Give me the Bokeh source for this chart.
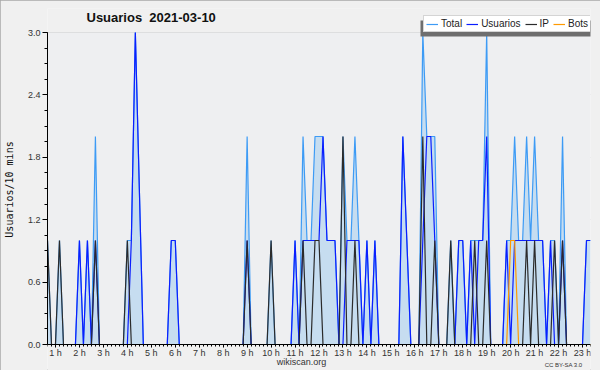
from bokeh.plotting import figure
from bokeh.models import (Range1d, FixedTicker, Legend, LegendItem, Label,
                          BoxAnnotation, PrintfTickFormatter, ColumnDataSource)
from bokeh.embed import file_html
from bokeh.resources import INLINE

# ---- data (10-minute slots) ----
slots = list(range(137))
hour_labels = [f"{h} h" for h in range(1, 24)]
hour_slots = [6 * h - 4 for h in range(1, 24)]
y_ticks = [0.0, 0.6, 1.2, 1.8, 2.4, 3.0]

total = [1, 0, 0, 1, 0, 0, 0, 0, 1, 0,
         1, 0, 2, 0, 0, 0, 0, 0, 0, 0,
         1, 1, 3, 1.5, 0, 0, 0, 0, 0, 0,
         0, 1, 1, 0, 0, 0, 0, 0, 0, 0,
         0, 0, 0, 0, 0, 0, 0, 0, 0, 0,
         2, 0, 0, 0, 0, 0, 1, 0, 0, 0,
         0, 0, 1, 0, 2, 1, 1, 2, 2, 2,
         1, 1, 1, 0, 2, 1, 1, 2, 1, 0,
         1, 0, 1, 0, 0, 0, 0, 0, 0, 2,
         1, 0, 0, 0, 3, 2, 2, 2, 0, 0,
         0, 1, 0, 1, 1, 0, 1, 1, 1, 1,
         3, 0, 0, 0, 0, 1, 1, 2, 1, 1,
         2, 1, 2, 1, 1, 0, 1, 1, 0, 2,
         0, 0, 0, 0, 0, 1, 1]
usuarios = [0, 0, 0, 0, 0, 0, 0, 0, 1, 0,
            1, 0, 1, 0, 0, 0, 0, 0, 0, 0,
            0, 1, 3, 1.5, 0, 0, 0, 0, 0, 0,
            0, 1, 1, 0, 0, 0, 0, 0, 0, 0,
            0, 0, 0, 0, 0, 0, 0, 0, 0, 0,
            1, 0, 0, 0, 0, 0, 0, 0, 0, 0,
            0, 0, 1, 0, 1, 1, 1, 1, 1, 2,
            1, 1, 1, 0, 0, 1, 1, 1, 1, 0,
            1, 0, 1, 0, 0, 0, 0, 0, 0, 2,
            1, 0, 0, 0, 1, 2, 2, 1, 0, 0,
            0, 0, 0, 1, 1, 0, 1, 0, 1, 1,
            2, 0, 0, 0, 0, 1, 0, 1, 1, 1,
            1, 1, 1, 1, 1, 0, 1, 0, 0, 1,
            0, 0, 0, 0, 0, 1, 1]
ip = [1, 0, 0, 1, 0, 0, 0, 0, 0, 0,
      0, 0, 1, 0, 0, 0, 0, 0, 0, 0,
      1, 0, 0, 0, 0, 0, 0, 0, 0, 0,
      0, 0, 0, 0, 0, 0, 0, 0, 0, 0,
      0, 0, 0, 0, 0, 0, 0, 0, 0, 0,
      1, 0, 0, 0, 0, 0, 1, 0, 0, 0,
      0, 0, 0, 0, 1, 0, 0, 1, 1, 0,
      0, 0, 0, 0, 2, 0, 0, 1, 0, 0,
      0, 0, 0, 0, 0, 0, 0, 0, 0, 0,
      0, 0, 0, 0, 2, 0, 0, 1, 0, 0,
      0, 1, 0, 0, 0, 0, 0, 1, 0, 0,
      1, 0, 0, 0, 0, 0, 0, 0, 0, 0,
      1, 0, 1, 0, 0, 0, 0, 1, 0, 1,
      0, 0, 0, 0, 0, 0, 0]
bots = [0] * 116 + [1, 1] + [0] * 19

src = ColumnDataSource(dict(x=slots, total=total, usuarios=usuarios, ip=ip, bots=bots))

FONT = "Liberation Sans"
PX_PER_UNIT = 104.0          # 3.0 units span 312 px
TOP_PAD = 24                 # px of frame above the 3.0 line
BOTTOM_PAD = 26              # px of frame below the 0 line
H = 370
FRAME_TOP = 8

p = figure(width=600, height=H, output_backend="svg", toolbar_location=None,
           x_range=Range1d(0, 136),
           y_range=Range1d(-BOTTOM_PAD / PX_PER_UNIT, y_ticks[-1] + TOP_PAD / PX_PER_UNIT),
           min_border_left=46, min_border_right=10, min_border_top=FRAME_TOP,
           min_border_bottom=0)
p.background_fill_color = "#f0f0f0"
p.border_fill_color = "#f0f0f0"
p.outline_line_color = None
p.styles = {"outline": "1px solid #a8a8a8", "outline-offset": "-1px"}

# plot-area background (between 0 and 3.0)
p.add_layout(BoxAnnotation(bottom=0, top=y_ticks[-1], fill_color="#eeeff1",
                           fill_alpha=1.0, line_color=None, level="underlay"))

# area + lines
p.varea(x="x", y1=0, y2="total", source=src, fill_color="#c6ddf0", fill_alpha=1.0)
r_total = p.line("x", "total", source=src, line_color="#3d9bf5", line_width=1.2)
r_us = p.line("x", "usuarios", source=src, line_color="#0a1eff", line_width=1.2)
r_ip = p.line("x", "ip", source=src, line_color="#2b2b2b", line_width=1.2)
r_bots = p.line("x", "bots", source=src, line_color="#ff9a00", line_width=1.2)

# axes
p.yaxis.ticker = FixedTicker(ticks=y_ticks,
                             minor_ticks=[i * 0.15 for i in range(21)])
p.yaxis.bounds = (y_ticks[0], y_ticks[-1])
p.yaxis.formatter = PrintfTickFormatter(format="%.1f")
p.yaxis.major_tick_out = 5
p.yaxis.major_tick_in = 0
p.yaxis.minor_tick_out = 3
p.yaxis.minor_tick_in = 0
p.yaxis.major_label_text_font = FONT
p.yaxis.major_label_text_font_size = "9px"
p.yaxis.major_label_text_color = "#333333"
p.yaxis.major_label_standoff = 2
p.yaxis.axis_label = "Usuarios/10 mins"
p.yaxis.axis_label_text_font = "DejaVu Sans Mono"
p.yaxis.axis_label_text_font_size = "10px"
p.yaxis.axis_label_text_font_style = "normal"
p.yaxis.axis_label_text_color = "#111111"
p.yaxis.axis_label_standoff = 10

p.xaxis.fixed_location = 0
p.xaxis.ticker = FixedTicker(ticks=hour_slots, minor_ticks=slots)
p.xaxis.major_label_overrides = {s: l for s, l in zip(hour_slots, hour_labels)}
p.xaxis.major_tick_out = 3
p.xaxis.major_tick_in = 0
p.xaxis.minor_tick_out = 2
p.xaxis.minor_tick_in = 0
p.xaxis.major_label_text_font = FONT
p.xaxis.major_label_text_font_size = "9px"
p.xaxis.major_label_text_color = "#333333"
p.xaxis.major_label_standoff = 0

p.xgrid.visible = False
p.ygrid.grid_line_color = "#cccccc"

# legend with shadow (screen units are measured from the frame's bottom-left)
def fy(y_from_top):
    return H - y_from_top

shadow = BoxAnnotation(left=419 - 46, right=591 - 46, bottom=fy(36), top=fy(20),
                       left_units="screen", right_units="screen",
                       bottom_units="screen", top_units="screen",
                       fill_color="#6e6e6e", fill_alpha=1.0, line_color=None,
                       level="annotation")
p.add_layout(shadow)
legend = Legend(items=[LegendItem(label="Total", renderers=[r_total]),
                       LegendItem(label="Usuarios", renderers=[r_us]),
                       LegendItem(label="IP", renderers=[r_ip]),
                       LegendItem(label="Bots", renderers=[r_bots])],
                orientation="horizontal", location=(422 - 46, fy(32)),
                padding=2, spacing=4, margin=0, label_standoff=3,
                glyph_width=12, glyph_height=10, label_height=10, label_width=0,
                label_text_font=FONT, label_text_font_size="10px",
                label_text_color="#222222",
                border_line_color="#aaaaaa", background_fill_color="white",
                background_fill_alpha=1.0)
p.add_layout(legend, "center")

# texts
p.add_layout(Label(x=39, y=fy(17), x_units="screen", y_units="screen",
                   text="Usuarios \u00a02021-03-10", text_font=FONT,
                   text_font_size="13px", text_font_style="bold",
                   text_baseline="middle", text_color="#111111"))
p.add_layout(Label(x=254, y=fy(361), x_units="screen", y_units="screen",
                   text="wikiscan.org", text_font=FONT, text_font_size="9px",
                   text_align="center", text_baseline="middle", text_color="#333333"))
p.add_layout(Label(x=535, y=fy(364), x_units="screen", y_units="screen",
                   text="CC BY-SA 3.0", text_font=FONT, text_font_size="6px",
                   text_align="right", text_baseline="middle", text_color="#333333"))

open("out.html", "w").write(file_html(p, INLINE))
